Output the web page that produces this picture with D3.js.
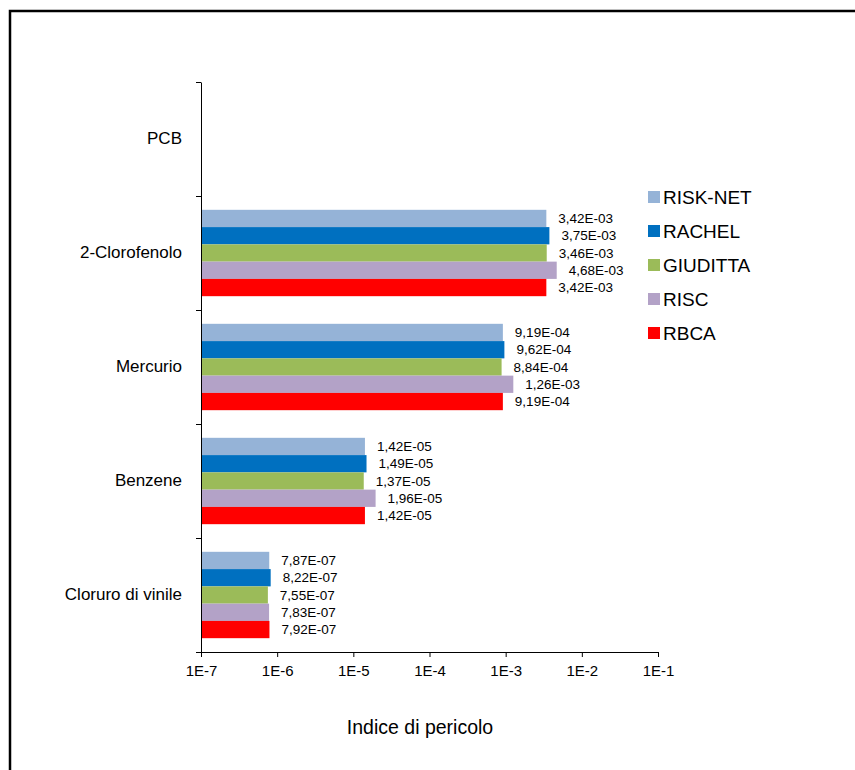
<!DOCTYPE html>
<html>
<head>
<meta charset="utf-8">
<script src="https://cdn.jsdelivr.net/npm/d3@7"></script>
<style>
  body { margin: 0; background: #fff; }
  text { font-family: "Liberation Sans", Arial, sans-serif; fill: #000; }
</style>
</head>
<body>
<div id="chart"></div>
<script>
// categories, top to bottom
const categories = ['PCB', '2-Clorofenolo', 'Mercurio', 'Benzene', 'Cloruro di vinile'];
const seriesNames = ['RISK-NET', 'RACHEL', 'GIUDITTA', 'RISC', 'RBCA'];
const seriesColors = ['#95B3D7', '#0070C0', '#9BBB59', '#B3A2C7', '#FF0000'];

// values per series, same order as categories (PCB has no value)
const riskNet  = [null, 3.42e-3, 9.19e-4, 1.42e-5, 7.87e-7];
const rachel   = [null, 3.75e-3, 9.62e-4, 1.49e-5, 8.22e-7];
const giuditta = [null, 3.46e-3, 8.84e-4, 1.37e-5, 7.55e-7];
const risc     = [null, 4.68e-3, 1.26e-3, 1.96e-5, 7.83e-7];
const rbca     = [null, 3.42e-3, 9.19e-4, 1.42e-5, 7.92e-7];

const xTicks = [1e-7, 1e-6, 1e-5, 1e-4, 1e-3, 1e-2, 1e-1];
const xTickLabels = ['1E-7', '1E-6', '1E-5', '1E-4', '1E-3', '1E-2', '1E-1'];

const seriesValues = [riskNet, rachel, giuditta, risc, rbca];

const width = 855, height = 770;
const margin = { top: 82, right: 197, bottom: 118, left: 201 };
const innerW = width - margin.left - margin.right;
const innerH = height - margin.top - margin.bottom;

const svg = d3.select('#chart').append('svg')
    .attr('width', width)
    .attr('height', height);

// outer frame (only top and left edges visible in the picture)
svg.append('rect')
    .attr('x', 10).attr('y', 11)
    .attr('width', 900).attr('height', 900)
    .attr('fill', 'none')
    .attr('stroke', '#000')
    .attr('stroke-width', 2.5);

const g = svg.append('g')
    .attr('transform', `translate(${margin.left},${margin.top})`);

const x = d3.scaleLog()
    .domain([1e-7, 1e-1])
    .range([0, innerW]);

const y = d3.scaleBand()
    .domain(categories)
    .range([0, innerH])
    .paddingInner(0)
    .paddingOuter(0);

const yInner = d3.scaleBand()
    .domain(seriesNames)
    .range([0, y.bandwidth()])
    .paddingOuter(0.8);

// format like 3,42E-03
const fmt = v => {
    const [m, e] = v.toExponential(2).split('e');
    const ex = parseInt(e, 10);
    const sign = ex < 0 ? '-' : '+';
    return m.replace('.', ',') + 'E' + sign + String(Math.abs(ex)).padStart(2, '0');
};

// bars
seriesNames.forEach((name, si) => {
    const data = categories.map((c, ci) => ({ cat: c, value: seriesValues[si][ci] }))
        .filter(d => d.value != null);

    g.selectAll(null)
        .data(data)
        .enter()
        .append('rect')
        .attr('x', 0)
        .attr('y', d => y(d.cat) + yInner(name))
        .attr('width', d => x(d.value))
        .attr('height', yInner.bandwidth())
        .attr('fill', seriesColors[si]);

    g.selectAll(null)
        .data(data)
        .enter()
        .append('text')
        .attr('x', d => x(d.value) + 12)
        .attr('y', d => y(d.cat) + yInner(name) + yInner.bandwidth() / 2)
        .attr('dy', '0.35em')
        .style('font-size', '13.5px')
        .text(d => fmt(d.value));
});

// x axis
const xAxis = g.append('g')
    .attr('transform', `translate(0,${innerH})`)
    .call(d3.axisBottom(x)
        .tickValues(xTicks)
        .tickFormat((d, i) => xTickLabels[i])
        .tickSize(5)
        .tickSizeOuter(0));
xAxis.selectAll('text').style('font-size', '15px').attr('dy', '1.05em');

// y axis: tick marks at band boundaries
const yEdges = d3.scaleLinear().domain([0, categories.length]).range([0, innerH]);
g.append('g')
    .call(d3.axisLeft(yEdges)
        .tickValues(d3.range(categories.length + 1))
        .tickFormat('')
        .tickSize(5)
        .tickSizeOuter(0));

// category labels
const yLabels = g.append('g')
    .call(d3.axisLeft(y).tickSize(0).tickPadding(19));
yLabels.select('.domain').remove();
yLabels.selectAll('text').style('font-size', '17px');

g.selectAll('.domain, .tick line').attr('stroke', '#000');
g.selectAll('.tick text').attr('fill', '#000');

// axis title
svg.append('text')
    .attr('x', 420)
    .attr('y', 734)
    .attr('text-anchor', 'middle')
    .style('font-size', '19.5px')
    .text('Indice di pericolo');

// legend
const legend = svg.append('g')
    .attr('transform', 'translate(648,197)');
seriesNames.forEach((name, i) => {
    const row = legend.append('g').attr('transform', `translate(0,${i * 34})`);
    row.append('rect')
        .attr('x', 0).attr('y', -6)
        .attr('width', 12).attr('height', 12)
        .attr('fill', seriesColors[i]);
    row.append('text')
        .attr('x', 15)
        .attr('dy', '0.35em')
        .style('font-size', '19px')
        .text(name);
});
</script>
</body>
</html>
